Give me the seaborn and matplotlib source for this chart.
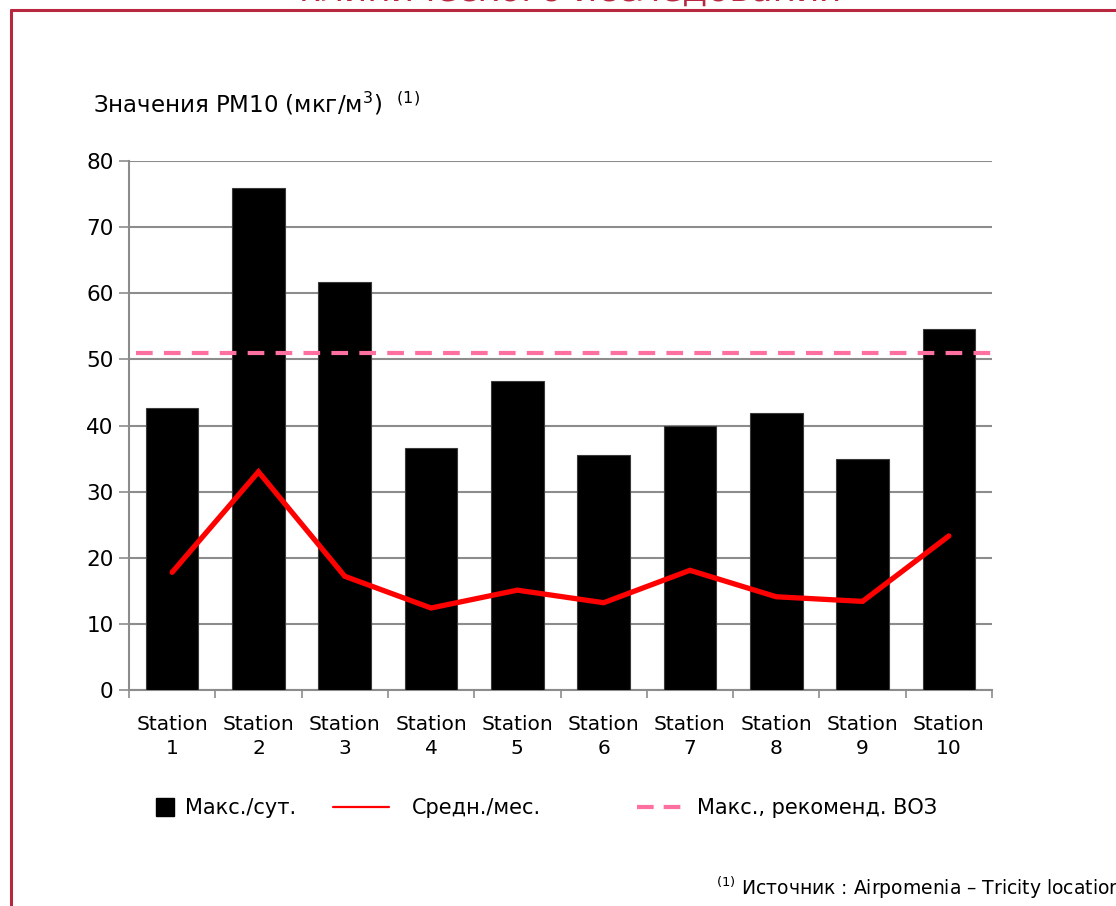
import matplotlib
matplotlib.use("Agg")
import matplotlib.pyplot as plt
from matplotlib.lines import Line2D
import seaborn as sns
import pandas as pd

# PM10 measurements per station
stations = ["Station\n1", "Station\n2", "Station\n3", "Station\n4", "Station\n5",
            "Station\n6", "Station\n7", "Station\n8", "Station\n9", "Station\n10"]
max_daily = [42.6, 75.9, 61.7, 36.6, 46.7, 35.5, 39.9, 41.9, 34.9, 54.6]
mean_monthly = [17.8, 33.0, 17.2, 12.4, 15.1, 13.2, 18.1, 14.1, 13.4, 23.3]
who_limit = 51.0
y_ticks = [0, 10, 20, 30, 40, 50, 60, 70, 80]

label_bar = "Макс./сут."
label_line = "Средн./мес."
label_who = "Макс., рекоменд. ВОЗ"
y_title = "Значения PM10 (мкг/м$^3$)  $^{(1)}$"
source_note = "$^{(1)}$ Источник : Airpomenia – Tricity location"
heading = "клинического исследования"

sns.set_theme(style="white")
plt.rcParams["font.family"] = ["DejaVu Sans"]
plt.rcParams["text.color"] = "black"
plt.rcParams["mathtext.default"] = "regular"

df = pd.DataFrame({"station": stations, "max": max_daily, "mean": mean_monthly})

W, H = 1116, 906
fig = plt.figure(figsize=(W / 100, H / 100), dpi=100)
ax = fig.add_axes([129 / W, 1 - 690 / H, (992 - 129) / W, (690 - 161) / H])

grid_c = "#8c8c8c"
red = "#ff0000"
pink = "#ff6fa0"
crimson = "#b8273f"

sns.barplot(data=df, x="station", y="max", color="black", width=0.61,
            edgecolor="#3a3a3a", linewidth=0.8, saturation=1, ax=ax, zorder=3)
sns.lineplot(data=df, x="station", y="mean", sort=False, color=red,
             linewidth=3.8, ax=ax, zorder=4, solid_joinstyle="miter",
             solid_capstyle="round")
ax.axhline(who_limit, xmin=0.008, xmax=1.0, color=pink, linewidth=3.0,
           dashes=(4, 2.7), zorder=5)

ax.set_xlim(-0.5, len(stations) - 0.5)
ax.set_ylim(0, 80)
ax.set_yticks(y_ticks)
ax.set_xlabel("")
ax.set_ylabel("")
ax.yaxis.grid(True, color=grid_c, linewidth=1.5, zorder=0)
ax.xaxis.grid(False)
ax.set_axisbelow(True)
for side in ("top", "right"):
    ax.spines[side].set_visible(False)
for side in ("left", "bottom"):
    ax.spines[side].set_color(grid_c)
    ax.spines[side].set_linewidth(1.5)

ax.tick_params(axis="y", which="major", length=7, width=1.2, color=grid_c,
               direction="out", labelsize=15.5, pad=4, labelcolor="black", left=True)
ax.tick_params(axis="x", which="major", length=0, labelsize=14.5, pad=18,
               labelcolor="black")
ax.set_xticks([i - 0.5 for i in range(len(stations) + 1)], minor=True)
ax.tick_params(axis="x", which="minor", length=6, width=1.2, color=grid_c,
               direction="out", bottom=True)
for lbl in ax.get_xticklabels():
    lbl.set_linespacing(1.3)

fig.text(93 / W, 1 - 104 / H, y_title, fontsize=16.5, va="center", ha="left")

# legend entries
h_bar = Line2D([], [], marker="s", markersize=13, color="black", linestyle="none")
h_line = Line2D([], [], color=red, linewidth=1.6)
h_who = Line2D([], [], color=pink, linewidth=3.0, dashes=(4, 2.4))
common = dict(frameon=False, fontsize=15, loc="center left",
              bbox_transform=fig.transFigure, borderpad=0, borderaxespad=0)
fig.legend([h_bar], [label_bar], bbox_to_anchor=(152 / W, 1 - 808 / H),
           handlelength=1.2, handletextpad=0.4, **common)
fig.legend([h_line], [label_line], bbox_to_anchor=(333 / W, 1 - 808 / H),
           handlelength=2.7, handletextpad=1.1, **common)
fig.legend([h_who], [label_who], bbox_to_anchor=(637 / W, 1 - 808 / H),
           handlelength=2.1, handletextpad=0.8, **common)

fig.text(716 / W, 1 - 888 / H, source_note, fontsize=13.5, ha="left", va="center")

# frame and clipped heading
fig.add_artist(Line2D([11 / W, 11 / W], [0, 1 - 9.5 / H], color=crimson,
                      linewidth=2.2, transform=fig.transFigure))
fig.add_artist(Line2D([11 / W, 1], [1 - 9.5 / H, 1 - 9.5 / H], color=crimson,
                      linewidth=2.2, transform=fig.transFigure))
fig.text(570 / W, 1 - 1.0 / H, heading, fontsize=26, color=crimson,
         ha="center", va="baseline")

fig.savefig("out.png", dpi=100, facecolor="white")
